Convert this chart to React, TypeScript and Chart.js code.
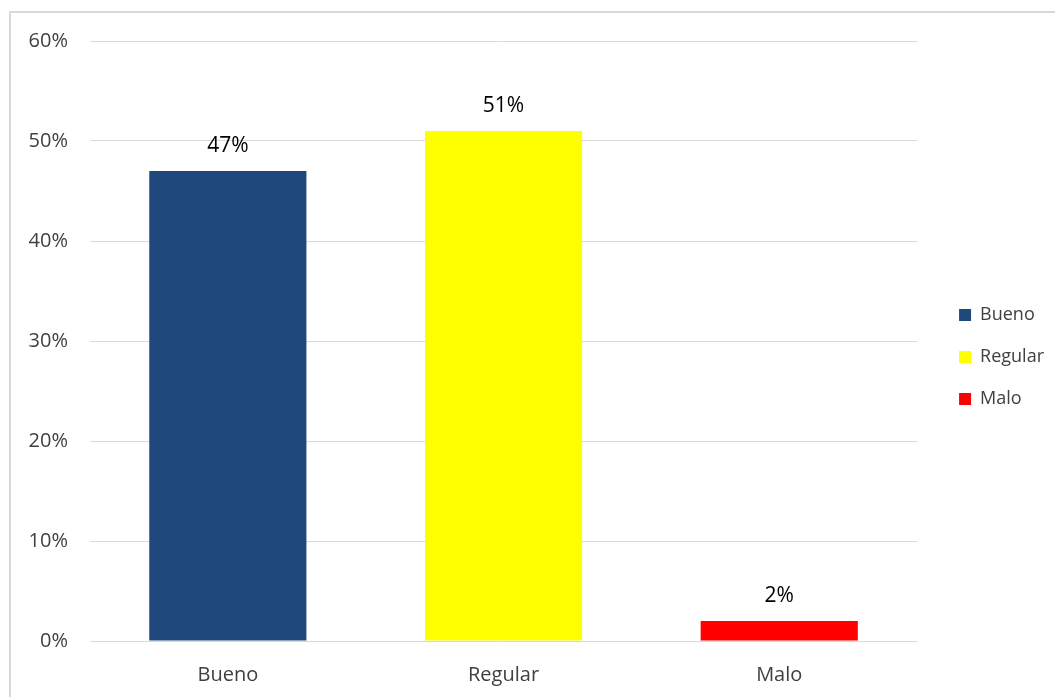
import React, { useEffect, useRef } from "react";
import { Chart, registerables } from "chart.js";

Chart.register(...registerables);

const categories = ["Bueno", "Regular", "Malo"];
const values = [47, 51, 2];
const barColors = ["#1F497D", "#FFFF00", "#FF0000"];
const yTicks = [0, 10, 20, 30, 40, 50, 60];

const FONT = "'Open Sans', 'DejaVu Sans', sans-serif";

const dataLabelPlugin = {
  id: "dataLabels",
  afterDatasetsDraw(chart: any) {
    const { ctx } = chart;
    const meta = chart.getDatasetMeta(0);
    ctx.save();
    ctx.fillStyle = "#000000";
    ctx.font = `21px ${FONT}`;
    ctx.textAlign = "center";
    ctx.textBaseline = "middle";
    meta.data.forEach((bar: any, i: number) => {
      ctx.fillText(values[i] + "%", bar.x, bar.y - 25);
    });
    ctx.restore();
  },
};

export default function App() {
  const ref = useRef<HTMLCanvasElement | null>(null);
  useEffect(() => {
    if (!ref.current) return;
    const chart = new Chart(ref.current, {
      type: "bar",
      data: {
        labels: categories,
        datasets: [
          {
            label: "Valor",
            data: values,
            backgroundColor: barColors,
            borderWidth: 0,
            barPercentage: 0.57,
            categoryPercentage: 1,
          },
        ],
      },
      options: {
        animation: false,
        responsive: false,
        maintainAspectRatio: false,
        layout: { padding: { top: 41, left: 0, right: 1, bottom: 0 } },
        plugins: {
          tooltip: { enabled: false },
          legend: {
            display: true,
            position: "right",
            fullSize: false,
            title: {
              display: true,
              text: " ",
              font: { family: FONT, size: 10 },
              padding: { top: 0, bottom: 20 },
            },
            labels: {
              boxWidth: 12,
              boxHeight: 12,
              padding: 24,
              color: "#404040",
              font: { family: FONT, size: 18 },
              generateLabels: () =>
                categories.map((c, i) => ({
                  text: c,
                  fillStyle: barColors[i],
                  strokeStyle: barColors[i],
                  fontColor: "#404040",
                  lineWidth: 0,
                  hidden: false,
                  index: i,
                  datasetIndex: 0,
                })),
            },
          },
        },
        scales: {
          x: {
            grid: { display: false, drawTicks: false },
            border: { display: false },
            ticks: {
              color: "#404040",
              font: { family: FONT, size: 20 },
              padding: 22,
            },
            afterFit: (s: any) => {
              s.height = 56;
            },
          },
          y: {
            min: 0,
            max: 60,
            afterBuildTicks: (s: any) => {
              s.ticks = yTicks.map((v) => ({ value: v }));
            },
            grid: { color: "#d9d9d9", lineWidth: 1, drawTicks: false },
            border: { display: false },
            ticks: {
              color: "#404040",
              font: { family: FONT, size: 20 },
              padding: 22,
              callback: (v: any) => v + "%",
            },
            afterFit: (s: any) => {
              s.width = 90;
            },
          },
          spacer: {
            type: "linear",
            position: "right",
            display: true,
            grid: { display: false, drawTicks: false },
            border: { display: false },
            ticks: { display: false },
            afterFit: (s: any) => {
              s.width = 18;
            },
          },
        },
      } as any,
      plugins: [dataLabelPlugin],
    });
    return () => chart.destroy();
  }, []);

  return (
    <div style={{ position: "absolute", left: 0, top: 0, width: 1055, height: 697, overflow: "hidden", background: "#fff" }}>
      <div
        style={{
          position: "absolute",
          left: 9,
          top: 11,
          width: 1100,
          height: 760,
          border: "2px solid #d9d9d9",
          boxSizing: "border-box",
        }}
      />
      <canvas ref={ref} width={1055} height={697} style={{ position: "absolute", left: 0, top: 0 }} />
    </div>
  );
}
